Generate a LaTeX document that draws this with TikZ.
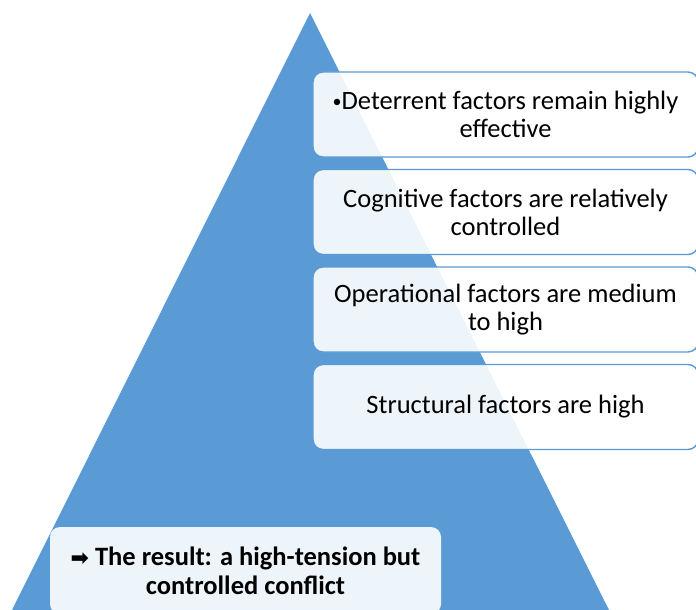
\documentclass[tikz,border=0pt]{standalone}
\usepackage{fontspec}
\setmainfont{Carlito}
\newfontfamily\symfont{DejaVu Sans}
\usepackage{tikz}
\usetikzlibrary{shapes}
\usepackage{xcolor}
\definecolor{pyrblue}{HTML}{5B9BD5}

\begin{document}
\begin{tikzpicture}[x=1pt,y=-1pt]
			\tikzstyle{fac} = [draw=pyrblue, line width=1.4pt, fill=white, fill opacity=0.9, text opacity=1, rounded corners=10pt, minimum width=385pt, minimum height=85pt, align=center, font=\fontsize{26.5}{28}\selectfont]
			\tikzstyle{res} = [fill=white, fill opacity=0.9, text opacity=1, rounded corners=10pt, minimum width=391pt, minimum height=87pt, align=center, font=\fontsize{26.5}{29}\selectfont\bfseries]
			\useasboundingbox (0,0) rectangle (696,610);
			\clip (0,0) rectangle (696,610);

			% pyramid
			\fill [pyrblue] (12,610) -- (310,13) -- (609,610) -- cycle;

			\node [fac] (f1) at (505.5,114.5) {{\fontsize{18}{18}\selectfont\raisebox{2pt}{•}}Deterrent factors remain highly\\effective};
			\node [fac] (f2) at (505.5,212) {Cognitive factors are relatively\\controlled};
			\node [fac] (f3) at (505.5,309.5) {Operational factors are medium\\to high};
			\node [fac] (f4) at (505.5,407) {Structural factors are high};

			\node [res] (r) at (245.5,570.5) {{\symfont\fontsize{22}{22}\selectfont ➡} The result: a high-tension but\\controlled conflict};

		\end{tikzpicture}
\end{document}
